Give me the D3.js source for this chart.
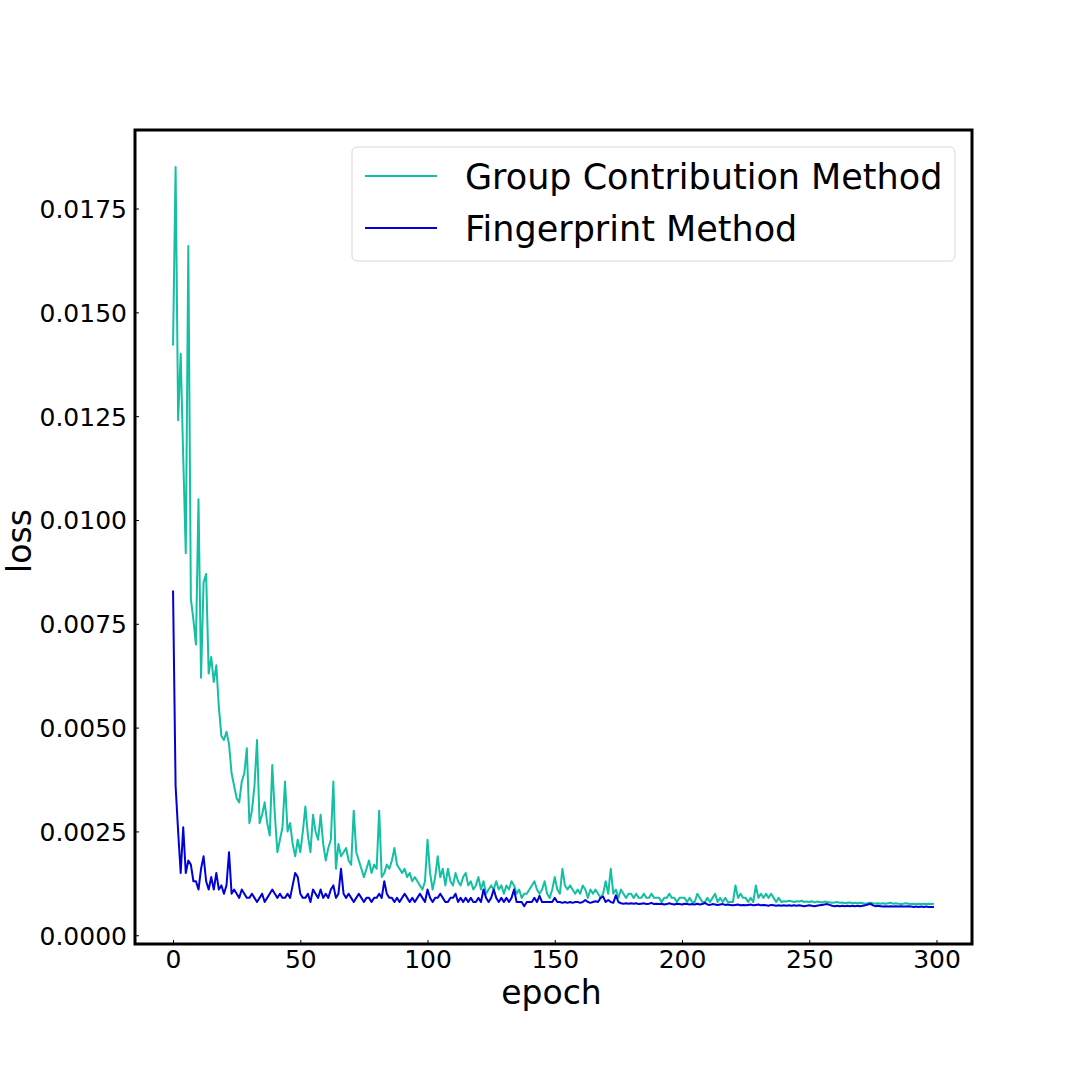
<!DOCTYPE html>
<html>
<head>
<meta charset="utf-8">
<script src="https://cdn.jsdelivr.net/npm/d3@7"></script>
<style>
  html, body { margin: 0; padding: 0; background: #fff; }
  svg { display: block; font-family: "DejaVu Sans", sans-serif; }
</style>
</head>
<body>
<svg id="chart" width="1080" height="1080"></svg>
<script>
const seriesNames = ["Group Contribution Method", "Fingerprint Method"];
const seriesColors = ["#14bfa3", "#0000d8"];

const groupContribution = [
  0.0142, 0.0185, 0.0124, 0.0140, 0.0115, 0.0092, 0.0166, 0.0081, 0.0076, 0.0070,
  0.0105, 0.0062, 0.0085, 0.0087, 0.0063, 0.0067, 0.0061, 0.0065, 0.0055, 0.0048,
  0.0047, 0.0049, 0.0046, 0.0039, 0.0036, 0.0033, 0.0032, 0.0037, 0.0039, 0.0045,
  0.0027, 0.0030, 0.0036, 0.0047, 0.0027, 0.0029, 0.0032, 0.0027, 0.0024, 0.0041,
  0.0029, 0.0020, 0.0023, 0.0026, 0.0037, 0.0025, 0.0027, 0.0022, 0.0019, 0.0023,
  0.0020, 0.0025, 0.0031, 0.0024, 0.0020, 0.0029, 0.0025, 0.0023, 0.0029, 0.0022,
  0.0018, 0.0021, 0.0023, 0.0037, 0.0016, 0.0022, 0.0019, 0.0020, 0.0021, 0.0018,
  0.0017, 0.0030, 0.0020, 0.0018, 0.0016, 0.0014, 0.0016, 0.0018, 0.0015, 0.0017,
  0.0016, 0.0030, 0.0014, 0.0015, 0.0017, 0.0016, 0.0018, 0.0021, 0.0017, 0.0016,
  0.0015, 0.0016, 0.0014, 0.0015, 0.0013, 0.0014, 0.0013, 0.0012, 0.0011, 0.0013,
  0.0023, 0.0015, 0.0011, 0.0014, 0.0019, 0.0014, 0.0016, 0.0012, 0.0016, 0.0013,
  0.0012, 0.0015, 0.0013, 0.0012, 0.0014, 0.0015, 0.0012, 0.0013, 0.0011, 0.0012,
  0.0014, 0.0011, 0.0013, 0.0010, 0.0011, 0.0012, 0.0011, 0.0013, 0.0011, 0.0012,
  0.0010, 0.0012, 0.0011, 0.0013, 0.0012, 0.0010, 0.0011, 0.0009, 0.0010, 0.0010,
  0.0011, 0.0012, 0.0013, 0.0011, 0.0010, 0.0011, 0.0013, 0.0010, 0.0009, 0.0011,
  0.0014, 0.0011, 0.0010, 0.0016, 0.0012, 0.0011, 0.0012, 0.0011, 0.0010, 0.0011,
  0.0010, 0.0012, 0.0011, 0.0009, 0.0011, 0.0010, 0.0011, 0.0010, 0.0009, 0.0010,
  0.0013, 0.0010, 0.0016, 0.0010, 0.0011, 0.0009, 0.0011, 0.0010, 0.0009, 0.0010,
  0.0010, 0.0009, 0.0010, 0.0009, 0.0009, 0.0010, 0.0009, 0.0009, 0.0010, 0.0009,
  0.0009, 0.0009, 0.0008, 0.0009, 0.0009, 0.0010, 0.0009, 0.0009, 0.0008, 0.0009,
  0.0009, 0.0009, 0.0008, 0.0009, 0.0008, 0.0008, 0.0010, 0.0009, 0.0008, 0.0008,
  0.0009, 0.0008, 0.0009, 0.0010, 0.0008, 0.0009, 0.0008, 0.0009, 0.0008, 0.0008,
  0.0008, 0.0012, 0.0009, 0.0010, 0.0009, 0.0009, 0.0008, 0.0009, 0.0008, 0.0012,
  0.0009, 0.0010, 0.0009, 0.0010, 0.0009, 0.0010, 0.0009, 0.0008, 0.0009, 0.0008,
  0.00082, 0.00081, 0.00083, 0.00082, 0.00080, 0.00082, 0.00081, 0.00083, 0.00080, 0.00081,
  0.00080, 0.00082, 0.00079, 0.00081, 0.00080, 0.00079, 0.00081, 0.00080, 0.00079, 0.00078,
  0.00079, 0.00080, 0.00078, 0.00079, 0.00077, 0.00078, 0.00079, 0.00077, 0.00078, 0.00077,
  0.00078, 0.00077, 0.00076, 0.00077, 0.00078, 0.00077, 0.00076, 0.00077, 0.00076, 0.00077,
  0.00076, 0.00077, 0.00078, 0.00076, 0.00077, 0.00076, 0.00075, 0.00076, 0.00077, 0.00076,
  0.00075, 0.00076, 0.00075, 0.00076, 0.00075, 0.00076, 0.00075, 0.00076, 0.00075, 0.00076
];

const fingerprint = [
  0.0083, 0.0036, 0.0025, 0.0015, 0.0026, 0.0015, 0.0018, 0.0017, 0.0013, 0.0013,
  0.0011, 0.0016, 0.0019, 0.0013, 0.0011, 0.0014, 0.0011, 0.0015, 0.0011, 0.0012,
  0.0010, 0.0012, 0.0020, 0.0010, 0.0011, 0.0010, 0.0009, 0.0011, 0.0010, 0.0009,
  0.0009, 0.0010, 0.0009, 0.0008, 0.0009, 0.0010, 0.0008, 0.0009, 0.0010, 0.0011,
  0.0010, 0.0009, 0.0010, 0.0009, 0.0009, 0.0010, 0.0009, 0.0012, 0.0015, 0.0014,
  0.0010, 0.0009, 0.0009, 0.0010, 0.0008, 0.0011, 0.0010, 0.0009, 0.0011, 0.0009,
  0.0010, 0.0009, 0.0011, 0.0012, 0.0009, 0.0010, 0.0016, 0.0010, 0.0009, 0.0010,
  0.0009, 0.0008, 0.0009, 0.0010, 0.0009, 0.0008, 0.0009, 0.0009, 0.0008, 0.0009,
  0.0009, 0.0010, 0.0009, 0.0013, 0.0010, 0.0009, 0.0009, 0.0008, 0.0009, 0.0008,
  0.0009, 0.0010, 0.0009, 0.0008, 0.0009, 0.0008, 0.0009, 0.0010, 0.0009, 0.0008,
  0.0011, 0.0009, 0.0008, 0.0009, 0.0009, 0.0010, 0.0009, 0.0008, 0.0008, 0.0009,
  0.0009, 0.0010, 0.0008, 0.0009, 0.0008, 0.0009, 0.0008, 0.0009, 0.0008, 0.0008,
  0.0009, 0.0008, 0.0011, 0.0009, 0.0008, 0.0009, 0.0011, 0.0009, 0.0008, 0.0009,
  0.0008, 0.0009, 0.0008, 0.0009, 0.0011, 0.0008, 0.0008, 0.0008, 0.0007, 0.0008,
  0.0008, 0.0008, 0.0009, 0.0008, 0.00095, 0.0008, 0.0008, 0.0008, 0.0008, 0.0008,
  0.0009, 0.0008, 0.0008, 0.00078, 0.0008, 0.00078, 0.0008, 0.00078, 0.0008, 0.0008,
  0.00078, 0.0008, 0.00085, 0.0008, 0.00078, 0.0008, 0.00082, 0.0008, 0.0009, 0.00093,
  0.0008, 0.00085, 0.0008, 0.00078, 0.00096, 0.0008, 0.00077, 0.00076, 0.00077, 0.00076,
  0.00077, 0.00076, 0.00077, 0.00075, 0.00076, 0.00077, 0.00075, 0.00076, 0.00078, 0.00075,
  0.00076, 0.00075, 0.00076, 0.00074, 0.00075, 0.00077, 0.00075, 0.00074, 0.00076, 0.00075,
  0.00074, 0.00076, 0.00075, 0.00074, 0.00075, 0.00074, 0.00076, 0.00074, 0.00075, 0.00078,
  0.00074, 0.00073, 0.00075, 0.00074, 0.00073, 0.00074, 0.00075, 0.00073, 0.00074, 0.00073,
  0.00072, 0.00073, 0.00074, 0.00072, 0.00073, 0.00072, 0.00073, 0.00074, 0.00072, 0.00073,
  0.00074, 0.00072, 0.00073, 0.00072, 0.00071, 0.00073, 0.00072, 0.00071, 0.00072, 0.00071,
  0.00072, 0.00071, 0.00072, 0.00071, 0.00072, 0.00071, 0.00072, 0.00071, 0.00070, 0.00071,
  0.00072, 0.00071, 0.00070, 0.00071, 0.00072, 0.00073, 0.00074, 0.00075, 0.00073, 0.00071,
  0.00070, 0.00071, 0.00070, 0.00071, 0.00070, 0.00071, 0.00070, 0.00071, 0.00070, 0.00071,
  0.00070, 0.00071, 0.00072, 0.00074, 0.00076, 0.00072, 0.00070, 0.00071, 0.00070, 0.00069,
  0.00070, 0.00069, 0.00070, 0.00069, 0.00070, 0.00069, 0.00070, 0.00069, 0.00069, 0.00070,
  0.00069, 0.00068, 0.00069, 0.00068, 0.00069, 0.00068, 0.00069, 0.00068, 0.00068, 0.00068
];

const xTicks = [0, 50, 100, 150, 200, 250, 300];
const yTicks = [0.0000, 0.0025, 0.0050, 0.0075, 0.0100, 0.0125, 0.0150, 0.0175];
const xLabel = "epoch";
const yLabel = "loss";

const svg = d3.select("#chart");
const frame = { left: 135, right: 972, top: 130, bottom: 944 };

const allSeries = [groupContribution, fingerprint];
const n = groupContribution.length;
const xMin = 0, xMax = n - 1;
const xPad = (xMax - xMin) * 0.05;
const allVals = allSeries.flat();
const yLo = d3.min(allVals), yHi = d3.max(allVals);
const yPad = (yHi - yLo) * 0.05;

const x = d3.scaleLinear().domain([xMin - xPad, xMax + xPad]).range([frame.left, frame.right]);
const y = d3.scaleLinear().domain([yLo - yPad, yHi + yPad]).range([frame.bottom, frame.top]);

// lines
const line = d3.line().x((d, i) => x(i)).y(d => y(d));
const plot = svg.append("g");
allSeries.forEach((s, k) => {
  plot.append("path")
    .datum(s)
    .attr("fill", "none")
    .attr("stroke", seriesColors[k])
    .attr("stroke-width", 2)
    .attr("stroke-linejoin", "round")
    .attr("d", line);
});

// axes
const xAxis = d3.axisBottom(x).tickValues(xTicks).tickSizeInner(-4).tickSizeOuter(0).tickPadding(10)
  .tickFormat(d3.format("d"));
const yAxis = d3.axisLeft(y).tickValues(yTicks).tickSizeInner(-4).tickSizeOuter(0).tickPadding(10)
  .tickFormat(d3.format(".4f"));

const gx = svg.append("g").attr("transform", `translate(0,${frame.bottom})`).call(xAxis);
const gy = svg.append("g").attr("transform", `translate(${frame.left},0)`).call(yAxis);
[gx, gy].forEach(g => {
  g.select(".domain").remove();
  g.selectAll(".tick line").attr("stroke", "#000").attr("stroke-width", 1);
  g.selectAll(".tick text").attr("fill", "#000").style("font-size", "25px")
    .style("font-family", "'DejaVu Sans', sans-serif");
});
gx.selectAll(".tick text").attr("dy", "0").attr("y", 24);
gy.selectAll(".tick text").attr("dy", "0.36em").attr("x", -8);

// frame
svg.append("rect")
  .attr("x", frame.left).attr("y", frame.top)
  .attr("width", frame.right - frame.left).attr("height", frame.bottom - frame.top)
  .attr("fill", "none").attr("stroke", "#000").attr("stroke-width", 3);

// axis labels
svg.append("text")
  .attr("x", (frame.left + frame.right) / 2 - 2).attr("y", 1004)
  .attr("text-anchor", "middle").style("font-size", "33px").text(xLabel);
svg.append("text")
  .attr("transform", `translate(31,${(frame.top + frame.bottom) / 2 + 4}) rotate(-90)`)
  .attr("text-anchor", "middle").style("font-size", "33px").text(yLabel);

// legend
const lg = svg.append("g");
lg.append("rect")
  .attr("x", 352).attr("y", 147).attr("width", 603).attr("height", 114)
  .attr("rx", 5).attr("ry", 5)
  .attr("fill", "#fff").attr("fill-opacity", 0.8)
  .attr("stroke", "#d6d6d6").attr("stroke-width", 1);
seriesNames.forEach((name, k) => {
  const cy = 176 + k * 52;
  lg.append("line").attr("x1", 365).attr("x2", 437).attr("y1", cy).attr("y2", cy)
    .attr("stroke", seriesColors[k]).attr("stroke-width", 2);
  lg.append("text").attr("x", 465).attr("y", cy).attr("dy", "0.36em")
    .style("font-size", "35px").attr("fill", "#000").text(name);
});
</script>
</body>
</html>
